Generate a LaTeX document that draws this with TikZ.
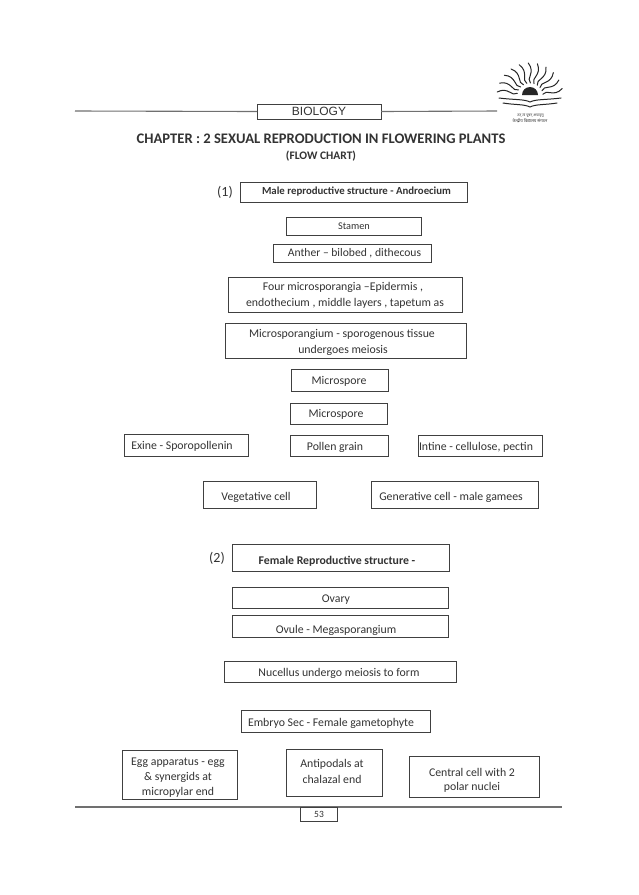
\documentclass[tikz,border=0pt]{standalone}
\usepackage{fontspec}
\setmainfont{Carlito}
\newfontfamily\arialf{Liberation Sans}
\newfontfamily\devaf[Script=Devanagari]{Noto Sans}
\definecolor{ink}{HTML}{333333}
\definecolor{edge}{HTML}{404040}
\definecolor{rulegray}{HTML}{707070}
\tikzset{
  boxnode/.style={draw=edge,line width=0.9pt,fill=white,inner sep=0pt,outer sep=0pt},
  lbl/.style={text=ink,inner sep=0pt,font=\fontsize{11.8}{14}\selectfont,align=center},
  boldlbl/.style={text=ink,inner sep=0pt,font=\fontsize{11.8}{14}\selectfont\bfseries,align=center},
  num/.style={text=ink,inner sep=0pt,font=\fontsize{14}{16}\selectfont},
  ruleline/.style={draw=rulegray,line width=1.1pt},
  ray/.style={draw=black!85,line width=1pt,line cap=round},
}
\newcommand{\bx}[5]{%
  \pgfmathsetmacro{\bw}{#4-#2}\pgfmathsetmacro{\bh}{#5-#3}%
  \pgfmathsetmacro{\bcx}{(#2+#4)/2}\pgfmathsetmacro{\bcy}{(#3+#5)/2}%
  \node[boxnode,minimum width=\bw pt,minimum height=\bh pt] (#1) at (\bcx,\bcy) {};}
\begin{document}
\begin{tikzpicture}[x=1pt,y=-1pt]
\useasboundingbox (0,0) rectangle (639,895);
\fill[white] (0,0) rectangle (639,895);
% header
\coordinate (topL) at (75,111);
\coordinate (topR) at (497,111);
\bx{bio}{257}{104}{381}{119}
\draw[ruleline] (topL) -- (bio.west);
\draw[ruleline] (bio.east) -- (topR);
\node[text=ink,inner sep=0pt,font=\arialf\fontsize{12}{14}\selectfont] (biot) at (319,111.5) {BIOLOGY};
\node[text=ink,inner sep=0pt,font=\fontsize{14.6}{16}\selectfont\bfseries] (title) at (321,139) {CHAPTER : 2 SEXUAL REPRODUCTION IN FLOWERING PLANTS};
\node[boldlbl,font=\fontsize{11.5}{14}\selectfont\bfseries] (flow) at (321,156.5) {(FLOW CHART)};
% logo
\begin{scope}[shift={(530,96)},yscale=-1]
  \foreach \a in {8,24,...,172}{
    \draw[ray] (\a:13) .. controls (\a+16:18) and (\a-12:24) .. (\a+5:33);
  }
  \fill[black!85] (-8,1) arc (180:0:8) -- cycle;
  \draw[ray] (-31,-2) .. controls (-15,-4) and (-6,-3) .. (0,-6) .. controls (6,-3) and (15,-4) .. (31,-2);
  \draw[ray] (-27,-7) .. controls (-15,-9) and (-6,-8) .. (0,-11) .. controls (6,-8) and (15,-9) .. (27,-7);
\end{scope}
\node[text=ink,inner sep=0pt,font=\devaf\fontsize{3.6}{5}\selectfont] (motto) at (530.5,115) {तत् त्वं पूषन् अपावृणु};
\node[text=ink,inner sep=0pt,font=\devaf\fontsize{4.2}{6}\selectfont] (kvs) at (530,120.5) {केन्द्रीय विद्यालय संगठन};
% section 1
\node[num] (n1) at (225,192) {(1)};
\bx{male}{240}{182}{467}{202}
\node[boldlbl,font=\fontsize{10.8}{13}\selectfont\bfseries] (malet) at (356.5,191.5) {Male reproductive structure - Androecium};
\bx{stamen}{286}{217}{421}{235}
\node[lbl,font=\fontsize{10.3}{12}\selectfont] (stament) at (354,226) {Stamen};
\bx{anther}{273}{244}{431}{262}
\node[lbl,font=\fontsize{11.6}{14}\selectfont] (anthert) at (354.5,253) {Anther – bilobed , dithecous};
\bx{four}{228}{277}{462}{312}
\node[lbl] (fourt1) at (343,287.5) {Four microsporangia –Epidermis ,};
\node[lbl] (fourt2) at (345,303.5) {endothecium , middle layers , tapetum as};
\bx{micsp}{225}{323}{466}{358}
\node[lbl] (micspt1) at (342,334.5) {Microsporangium - sporogenous tissue};
\node[lbl] (micspt2) at (343,350.5) {undergoes meiosis};
\bx{ms1}{291}{369}{388}{391}
\node[lbl] (ms1t) at (339,381.5) {Microspore};
\bx{ms2}{290}{403}{387}{424}
\node[lbl] (ms2t) at (336,414.5) {Microspore};
\bx{exine}{124}{434}{248}{456}
\node[lbl] (exinet) at (182,446.5) {Exine - Sporopollenin};
\bx{pollen}{290}{435}{388}{456}
\node[lbl] (pollent) at (335,447.5) {Pollen grain};
\bx{intine}{418}{435}{542}{456}
\node[lbl] (intinet) at (476,447.5) {Intine - cellulose, pectin};
\bx{veg}{203}{481}{316}{508}
\node[lbl] (vegt) at (256,497.5) {Vegetative cell};
\bx{gen}{371}{481}{538}{508}
\node[lbl] (gent) at (451,497.5) {Generative cell - male gamees};
% section 2
\node[num] (n2) at (217,558) {(2)};
\bx{female}{232}{544}{449}{571}
\node[boldlbl] (femalet) at (337,561.5) {Female Reproductive structure -};
\bx{ovary}{232}{587}{448}{608}
\node[lbl] (ovaryt) at (336,599.5) {Ovary};
\bx{ovule}{232}{615}{448}{637}
\node[lbl] (ovulet) at (336,630.5) {Ovule - Megasporangium};
\bx{nucel}{224}{661}{456}{682}
\node[lbl] (nucelt) at (339,673.5) {Nucellus undergo meiosis to form};
\bx{embryo}{241}{710}{430}{732}
\node[lbl] (embryot) at (331,723.5) {Embryo Sec - Female gametophyte};
\bx{egg}{122}{750}{237}{799}
\node[lbl] (eggt1) at (178,762.5) {Egg apparatus - egg};
\node[lbl] (eggt2) at (178,777.5) {\& synergids at};
\node[lbl] (eggt3) at (178,792.5) {micropylar end};
\bx{anti}{286}{749}{382}{796}
\node[lbl] (antit1) at (332,764.5) {Antipodals at};
\node[lbl] (antit2) at (332,779.5) {chalazal end};
\bx{central}{409}{756}{539}{797}
\node[lbl] (centralt1) at (472,772.5) {Central cell with 2};
\node[lbl] (centralt2) at (472,787.5) {polar nuclei};
% footer
\coordinate (botL) at (75,807);
\coordinate (botR) at (562,807);
\draw[ruleline] (botL) -- (botR);
\bx{page}{300}{807}{337}{821}
\node[lbl,font=\fontsize{9.5}{11}\selectfont] (paget) at (319,814) {53};
\end{tikzpicture}
\end{document}
